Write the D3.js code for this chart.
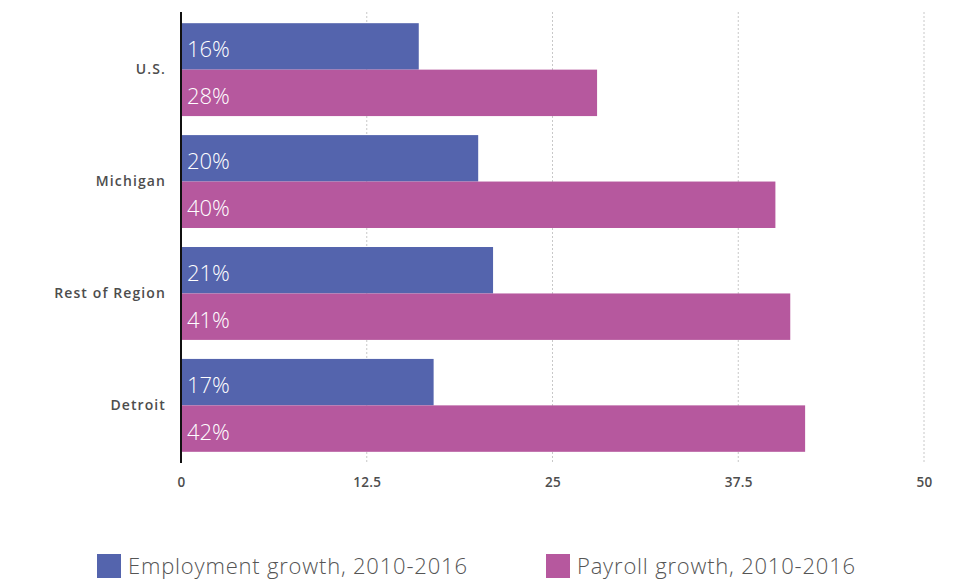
<!DOCTYPE html>
<html>
<head>
<meta charset="utf-8">
<script src="https://cdn.jsdelivr.net/npm/d3@7"></script>
<style>
  html, body { margin: 0; padding: 0; background: #fff; }
  svg { display: block; font-family: "Open Sans", Lato, sans-serif; }
</style>
</head>
<body>
<svg id="chart" width="967" height="582"></svg>
<script>
// Growth by area, 2010-2016 (percent)
const categories = ["U.S.", "Michigan", "Rest of Region", "Detroit"];
const employmentGrowth = [16, 20, 21, 17];
const payrollGrowth = [28, 40, 41, 42];
const seriesNames = ["Employment growth, 2010-2016", "Payroll growth, 2010-2016"];
const xTicks = [0, 12.5, 25, 37.5, 50];

const colors = ["#5464ad", "#b6589e"];

const svg = d3.select("#chart");
const plot = { left: 181, right: 924, top: 12, bottom: 463 };

const x = d3.scaleLinear().domain([0, 50]).range([plot.left, plot.right]);
const y = d3.scaleBand().domain(categories).range([plot.top, plot.bottom])
  .paddingInner(0.17).paddingOuter(0.1);
const ySub = d3.scaleBand().domain([0, 1]).range([0, y.bandwidth()]);

// dotted vertical grid
svg.append("g").selectAll("line")
  .data(xTicks.filter(t => t !== 0))
  .join("line")
  .attr("x1", d => x(d)).attr("x2", d => x(d))
  .attr("y1", plot.top).attr("y2", plot.bottom)
  .attr("stroke", "#c8c8c8")
  .attr("stroke-width", 1)
  .attr("stroke-dasharray", "2,2");

// bars
const series = [employmentGrowth, payrollGrowth];
const rows = [];
categories.forEach((c, i) => {
  series.forEach((s, k) => rows.push({ cat: c, k, v: s[i] }));
});

const g = svg.append("g");
g.selectAll("rect").data(rows).join("rect")
  .attr("x", x(0))
  .attr("y", d => y(d.cat) + ySub(d.k))
  .attr("width", d => x(d.v) - x(0))
  .attr("height", ySub.bandwidth())
  .attr("fill", d => colors[d.k]);

// value labels inside the bars
g.selectAll("text").data(rows).join("text")
  .attr("x", x(0) + 6)
  .attr("y", d => y(d.cat) + ySub(d.k) + ySub.bandwidth() / 2 + 3)
  .attr("dy", "0.36em")
  .attr("fill", "#fff")
  .attr("font-size", 22)
  .attr("font-weight", 300)
  .text(d => d.v + "%");

// category axis
const yAxis = svg.append("g")
  .attr("transform", `translate(${plot.left},0)`)
  .call(d3.axisLeft(y).tickSize(0).tickPadding(15));
yAxis.select(".domain").remove();
yAxis.selectAll("text")
  .attr("font-family", "'Open Sans', sans-serif")
  .attr("font-size", 14)
  .attr("font-weight", 600)
  .attr("letter-spacing", 1.1)
  .attr("fill", "#4d4d4d");

svg.append("line")
  .attr("x1", plot.left).attr("x2", plot.left)
  .attr("y1", plot.top).attr("y2", plot.bottom)
  .attr("stroke", "#111").attr("stroke-width", 2);

// value axis
const xAxis = svg.append("g")
  .attr("transform", `translate(0,${plot.bottom})`)
  .call(d3.axisBottom(x).tickValues(xTicks).tickFormat(d => d).tickSize(0).tickPadding(14));
xAxis.select(".domain").remove();
xAxis.selectAll("text")
  .attr("font-family", "'Open Sans', sans-serif")
  .attr("font-size", 13.5)
  .attr("font-weight", 600)
  .attr("letter-spacing", 0.3)
  .attr("fill", "#4d4d4d");

// legend
const legendX = [97, 546];
const legend = svg.append("g").selectAll("g").data(seriesNames).join("g")
  .attr("transform", (d, i) => `translate(${legendX[i]},554)`);
legend.append("rect").attr("width", 24).attr("height", 24)
  .attr("fill", (d, i) => colors[i]);
legend.append("text")
  .attr("x", 31).attr("y", 12).attr("dy", "0.36em")
  .attr("font-size", 22).attr("font-weight", 300)
  .attr("letter-spacing", 0.8)
  .attr("fill", "#555")
  .text(d => d);
</script>
</body>
</html>
